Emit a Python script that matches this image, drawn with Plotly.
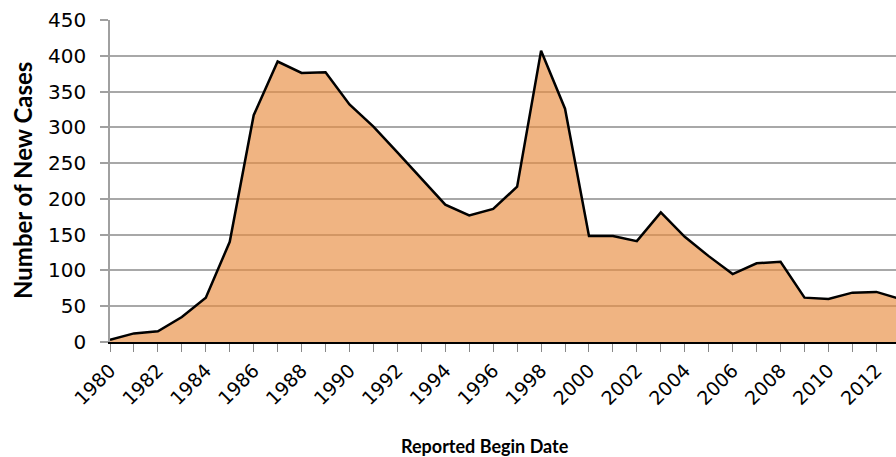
import plotly.graph_objects as go

years = list(range(1980, 2014))
cases = [3, 12, 15, 35, 62, 140, 317, 392, 376, 377, 332, 301, 265, 228, 192, 177,
         186, 217, 407, 326, 148, 148, 141, 181, 147, 120, 95, 110, 112, 62, 60, 69,
         70, 60]
x_title = "Reported Begin Date"
y_title = "Number of New Cases"
y_ticks = [0, 50, 100, 150, 200, 250, 300, 350, 400, 450]
x_ticks = list(range(1980, 2013, 2))

fig = go.Figure()
fig.add_trace(go.Scatter(
    x=years, y=cases, mode="lines", fill="tozeroy",
    fillcolor="rgba(232,140,63,0.65)",
    line=dict(color="black", width=2.5),
    hoverinfo="x+y", showlegend=False,
))

fig.update_layout(
    width=896, height=457,
    margin=dict(l=110, r=0, t=20, b=115),
    paper_bgcolor="white", plot_bgcolor="white",
    font=dict(family="DejaVu Sans", color="black"),
    xaxis=dict(
        range=[1980, 2012.82], tickvals=x_ticks, ticktext=[str(v) for v in x_ticks],
        tickangle=-45, tickfont=dict(family="DejaVu Sans", size=19),
        ticks="outside", ticklen=8, tickcolor="#888888", tickwidth=1,
        minor=dict(dtick=1, tick0=1980, ticks="outside", ticklen=8, tickcolor="#888888", tickwidth=1, showgrid=False),
        showgrid=False, showline=True, linecolor="black", linewidth=2,
        layer="above traces", zeroline=False,
    ),
    yaxis=dict(
        range=[0, 450], tickvals=y_ticks, tickfont=dict(family="DejaVu Sans", size=20),
        ticks="outside", ticklen=8, tickcolor="#a0a0a0", tickwidth=1.5,
        ticklabelstandoff=10,
        showgrid=True, gridcolor="#a8a8a8", gridwidth=1.5,
        showline=True, linecolor="#a0a0a0", linewidth=1.5, zeroline=False,
    ),
    annotations=[
        dict(text=x_title, xref="paper", yref="paper", x=0.477, y=-0.324,
             xanchor="center", yanchor="middle", showarrow=False,
             font=dict(family="Lato", size=18, weight="bold", color="black")),
        dict(text=y_title, xref="paper", yref="paper", x=-0.112, y=0.503,
             xanchor="center", yanchor="middle", showarrow=False, textangle=-90,
             font=dict(family="Lato", size=24, weight="bold", color="black")),
    ],
)

fig.write_html(
    "out.html",
    config={"displayModeBar": False},
    post_script="document.body.style.margin='0px';document.body.style.overflow='hidden';",
)
